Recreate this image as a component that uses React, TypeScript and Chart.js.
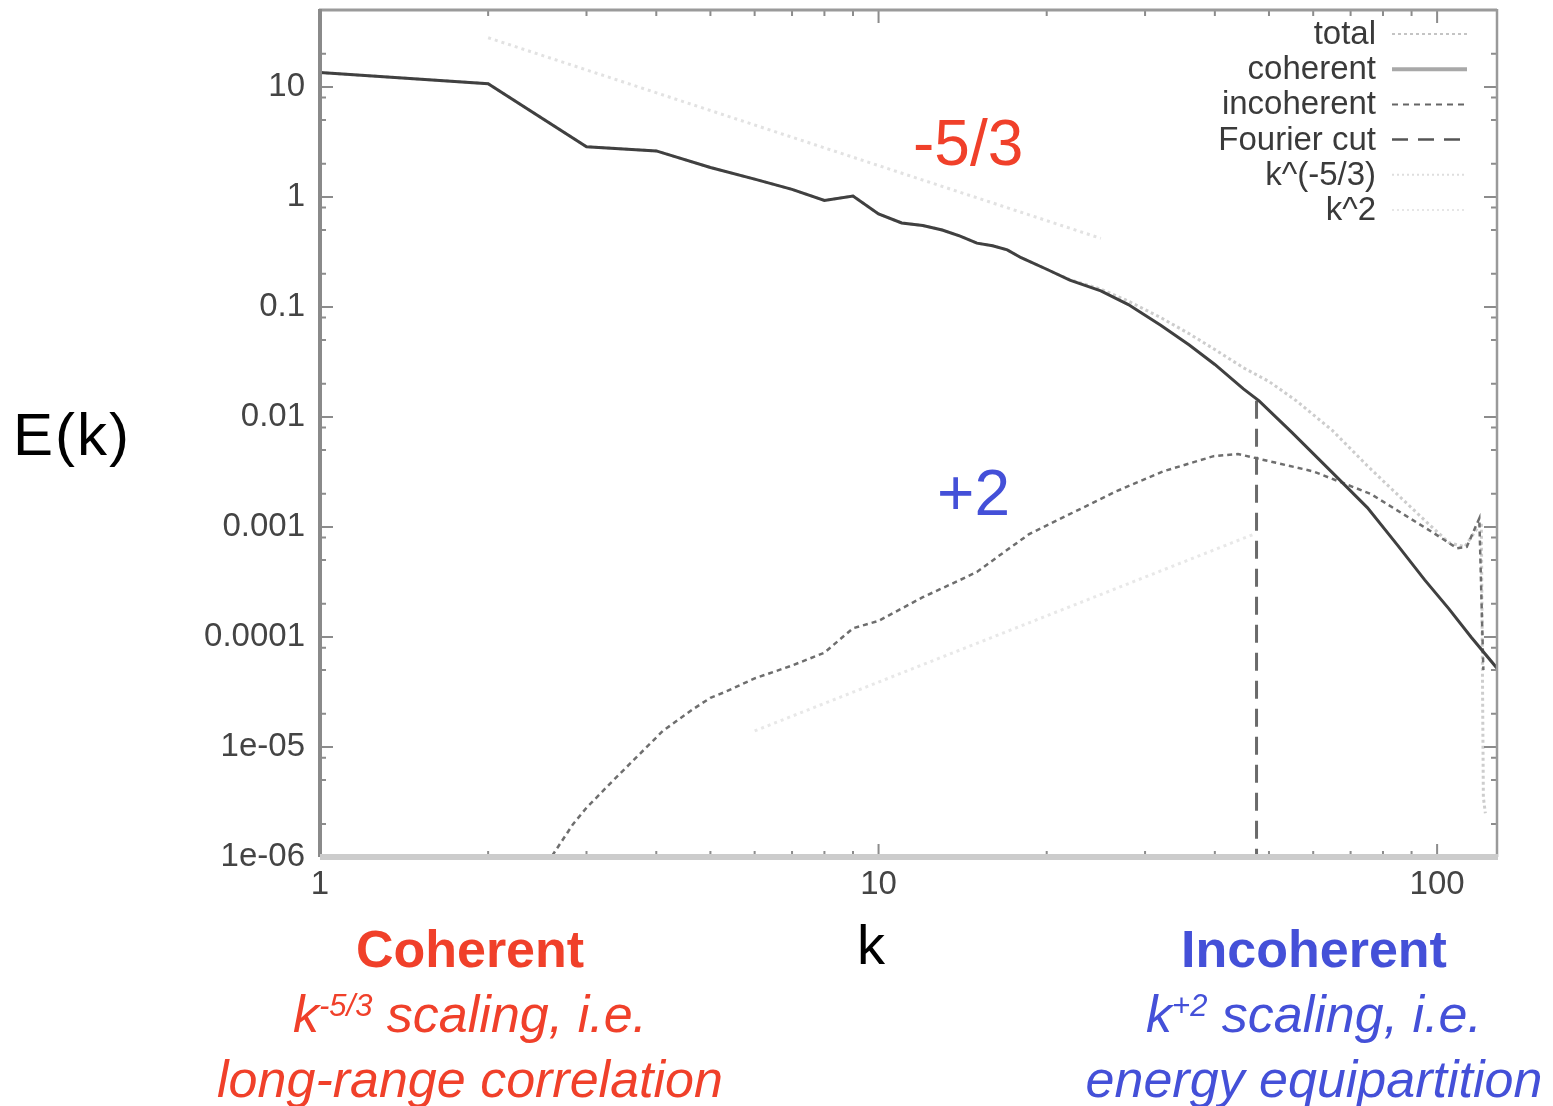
import React, { useEffect, useRef } from 'react';
import { Chart, registerables } from 'chart.js';

Chart.register(...registerables);

const FONT = '"Liberation Sans", Arial, Helvetica, sans-serif';

// ---- data ----
const coherentK = [1, 2, 3, 4, 5, 6, 7, 8, 9, 10, 11, 12, 13, 14, 15, 16, 17, 18, 20, 22, 25, 28, 32, 36, 40, 45, 48, 55, 65, 75, 85, 95, 105, 115, 128];
const coherentE = [13.5, 10.7, 2.86, 2.62, 1.85, 1.45, 1.17, 0.93, 1.02, 0.7, 0.58, 0.55, 0.5, 0.44, 0.38, 0.36, 0.33, 0.28, 0.22, 0.175, 0.14, 0.105, 0.068, 0.045, 0.03, 0.018, 0.014, 0.0072, 0.0031, 0.0015, 0.00068, 0.00033, 0.00018, 0.0001, 0.000052];

const totalK = [1, 2, 3, 4, 5, 6, 7, 8, 9, 10, 11, 12, 13, 14, 15, 16, 17, 18, 20, 22, 25, 28, 32, 36, 40, 45, 50, 56, 65, 75, 83, 95, 105, 112, 120, 121, 122];
const totalE = [13.5, 10.7, 2.86, 2.62, 1.85, 1.45, 1.17, 0.93, 1.02, 0.7, 0.58, 0.55, 0.5, 0.44, 0.38, 0.36, 0.33, 0.28, 0.22, 0.177, 0.145, 0.113, 0.08, 0.057, 0.041, 0.028, 0.021, 0.014, 0.0075, 0.0036, 0.0022, 0.00115, 0.00072, 0.00066, 0.0011, 0.0000035, 0.0000025];

const incoherentK = [2.5, 2.84, 3, 3.3, 3.68, 4.11, 4.65, 5, 5.34, 6, 7, 8, 9, 10, 12, 14, 15, 17, 18.6, 22.6, 26.6, 32.3, 39.8, 44, 47.6, 60, 76, 97.6, 108.6, 113, 119, 121];
const incoherentE = [7.5e-7, 2.0e-6, 2.8e-6, 4.6e-6, 8.0e-6, 1.4e-5, 2.2e-5, 2.8e-5, 3.2e-5, 4.2e-5, 5.5e-5, 7.2e-5, 1.2e-4, 1.4e-4, 2.3e-4, 3.3e-4, 3.9e-4, 6.2e-4, 8.6e-4, 1.4e-3, 2.1e-3, 3.2e-3, 4.4e-3, 4.6e-3, 4.2e-3, 3.2e-3, 2.0e-3, 9.1e-4, 6.4e-4, 6.6e-4, 1.2e-3, 5e-5];

const fourierCutK = [47.5, 47.5];
const fourierCutE = [0.014, 1e-6];

const kolmogorovK = [2, 25];
const kolmogorovE = [28, 0.42];

const equipartK = [6, 47];
const equipartE = [1.4e-5, 8.6e-4];

const xTickValues = [1, 10, 100];
const xTickLabels = ['1', '10', '100'];
const yTickValues = [1e-6, 1e-5, 1e-4, 1e-3, 1e-2, 0.1, 1, 10];
const yTickLabels = ['1e-06', '1e-05', '0.0001', '0.001', '0.01', '0.1', '1', '10'];

const xMinorTicks = [2, 3, 4, 5, 6, 7, 8, 9, 20, 30, 40, 50, 60, 70, 80, 90];
const yMinorMultipliers = [2, 5, 8];

const legendLabels = ['total', 'coherent', 'incoherent', 'Fourier cut', 'k^(-5/3)', 'k^2'];

const toPoints = (ks: number[], es: number[]) => ks.map((k, i) => ({ x: k, y: es[i] }));

const legendStyles = [
  { color: '#c4c4c4', width: 2, dash: [3, 3] },
  { color: '#a8a8a8', width: 4, dash: [] as number[] },
  { color: '#666666', width: 2, dash: [6, 5] },
  { color: '#555555', width: 2.5, dash: [16, 10] },
  { color: '#dedede', width: 2, dash: [2, 3] },
  { color: '#e6e6e6', width: 2, dash: [2, 3] },
];

const framePlugin = {
  id: 'gnuframe',
  afterDatasetsDraw(chart: any) {
    const { ctx, chartArea: a, scales } = chart;
    const xs = scales.x;
    const ys = scales.y;
    ctx.save();
    ctx.strokeStyle = '#8c8c8c';
    ctx.lineWidth = 2;
    const vt = (px: number, len: number) => {
      ctx.beginPath();
      ctx.moveTo(px, a.bottom);
      ctx.lineTo(px, a.bottom - len);
      ctx.moveTo(px, a.top);
      ctx.lineTo(px, a.top + len);
      ctx.stroke();
    };
    const ht = (py: number, len: number) => {
      ctx.beginPath();
      ctx.moveTo(a.left, py);
      ctx.lineTo(a.left + len, py);
      ctx.moveTo(a.right, py);
      ctx.lineTo(a.right - len, py);
      ctx.stroke();
    };
    xTickValues.forEach((v) => vt(xs.getPixelForValue(v), 13));
    xMinorTicks.forEach((v) => vt(xs.getPixelForValue(v), 6));
    yTickValues.forEach((v) => ht(ys.getPixelForValue(v), 13));
    yTickValues.forEach((d) => {
      yMinorMultipliers.forEach((m) => {
        const v = d * m;
        if (v < 50) ht(ys.getPixelForValue(v), 6);
      });
    });
    ctx.setLineDash([]);
    ctx.lineCap = 'butt';
    ctx.strokeStyle = '#9a9a9a';
    ctx.lineWidth = 3;
    ctx.beginPath();
    ctx.moveTo(a.left - 1, a.top);
    ctx.lineTo(a.right, a.top);
    ctx.stroke();
    ctx.strokeStyle = '#8a8a8a';
    ctx.lineWidth = 4;
    ctx.beginPath();
    ctx.moveTo(a.left, a.top - 1);
    ctx.lineTo(a.left, a.bottom);
    ctx.stroke();
    ctx.strokeStyle = '#9a9a9a';
    ctx.lineWidth = 2.5;
    ctx.beginPath();
    ctx.moveTo(a.right, a.top - 1);
    ctx.lineTo(a.right, a.bottom);
    ctx.stroke();
    ctx.strokeStyle = '#cccccc';
    ctx.lineWidth = 6;
    ctx.beginPath();
    ctx.moveTo(a.left, a.bottom);
    ctx.lineTo(a.right + 1, a.bottom);
    ctx.stroke();

    ctx.font = `33px ${FONT}`;
    ctx.textAlign = 'right';
    ctx.textBaseline = 'middle';
    legendLabels.forEach((lab, i) => {
      const y = 34 + i * 35.2;
      ctx.fillStyle = '#3a3a3a';
      ctx.fillText(lab, 1376, y + 1);
      const st = legendStyles[i];
      ctx.strokeStyle = st.color;
      ctx.lineWidth = st.width;
      ctx.setLineDash(st.dash);
      ctx.beginPath();
      ctx.moveTo(1392, y);
      ctx.lineTo(1467, y);
      ctx.stroke();
    });
    ctx.restore();
  },
};

const tickFont = { family: FONT, size: 33 };

const zeroPad = (s: any) => {
  s.paddingTop = 0;
  s.paddingBottom = 0;
  s.paddingLeft = 0;
  s.paddingRight = 0;
};

export default function App() {
  const ref = useRef<HTMLCanvasElement | null>(null);

  useEffect(() => {
    if (!ref.current) return;
    const chart = new Chart(ref.current, {
      type: 'line',
      data: {
        datasets: [
          {
            label: 'coherent',
            data: toPoints(coherentK, coherentE),
            borderColor: '#404040',
            borderWidth: 3,
            pointRadius: 0,
            tension: 0,
            order: 0,
          },
          {
            label: 'Fourier cut',
            data: toPoints(fourierCutK, fourierCutE),
            borderColor: '#6a6a6a',
            borderWidth: 3,
            borderDash: [18, 10],
            pointRadius: 0,
            order: 1,
          },
          {
            label: 'incoherent',
            data: toPoints(incoherentK, incoherentE),
            borderColor: '#6e6e6e',
            borderWidth: 2.5,
            borderDash: [5, 4],
            pointRadius: 0,
            tension: 0,
            order: 2,
          },
          {
            label: 'total',
            data: toPoints(totalK, totalE),
            borderColor: '#cdcdcd',
            borderWidth: 3,
            borderDash: [3, 3],
            pointRadius: 0,
            tension: 0,
            order: 3,
          },
          {
            label: 'k^(-5/3)',
            data: toPoints(kolmogorovK, kolmogorovE),
            borderColor: '#e2e2e2',
            borderWidth: 3,
            borderDash: [3, 4],
            pointRadius: 0,
            order: 4,
          },
          {
            label: 'k^2',
            data: toPoints(equipartK, equipartE),
            borderColor: '#e8e8e8',
            borderWidth: 3,
            borderDash: [3, 4],
            pointRadius: 0,
            order: 5,
          },
        ],
      },
      options: {
        responsive: false,
        animation: false,
        devicePixelRatio: 1,
        layout: { padding: { top: 10, right: 56, left: 0, bottom: 0 } },
        plugins: { legend: { display: false }, tooltip: { enabled: false } },
        scales: {
          x: {
            type: 'logarithmic',
            min: 1,
            max: 128,
            position: 'bottom',
            afterFit: (s: any) => {
              s.height = 249;
              zeroPad(s);
            },
            afterBuildTicks: (s: any) => {
              s.ticks = xTickValues.map((v) => ({ value: v }));
            },
            ticks: {
              autoSkip: false,
              maxRotation: 0,
              padding: 8,
              color: '#444444',
              font: tickFont,
              callback: (v: any) => {
                const i = xTickValues.indexOf(Number(v));
                return i >= 0 ? xTickLabels[i] : '';
              },
            },
            grid: { display: false, drawTicks: false },
            border: { display: false },
          },
          y: {
            type: 'logarithmic',
            min: 1e-6,
            max: 50,
            position: 'left',
            afterFit: (s: any) => {
              s.width = 320;
              zeroPad(s);
            },
            afterBuildTicks: (s: any) => {
              s.ticks = yTickValues.map((v) => ({ value: v }));
            },
            ticks: {
              autoSkip: false,
              padding: 15,
              color: '#444444',
              font: tickFont,
              callback: (v: any) => {
                const n = Number(v);
                const i = yTickValues.findIndex((t) => Math.abs(Math.log10(t) - Math.log10(n)) < 1e-6);
                return i >= 0 ? yTickLabels[i] : '';
              },
            },
            grid: { display: false, drawTicks: false },
            border: { display: false },
          },
        },
      },
      plugins: [framePlugin],
    } as any);
    return () => chart.destroy();
  }, []);

  const red = '#f0402a';
  const blue = '#4450d8';
  const abs = (s: React.CSSProperties): React.CSSProperties => ({
    position: 'absolute',
    fontFamily: FONT,
    whiteSpace: 'nowrap',
    margin: 0,
    ...s,
  });
  const sup: React.CSSProperties = { fontSize: '31px', position: 'relative', top: '-16px', lineHeight: 0, verticalAlign: 'baseline' };

  return (
    <div style={{ position: 'absolute', left: 0, top: 0, width: 1553, height: 1106, overflow: 'hidden', background: '#fff' }}>
      <canvas ref={ref} width={1553} height={1106} style={{ position: 'absolute', left: 0, top: 0, display: 'block' }} />
      <div style={abs({ left: 13, top: 401, fontSize: 60, letterSpacing: '2px', lineHeight: '68px', color: '#000' })}>E(k)</div>
      <div style={abs({ left: 821, top: 917, width: 100, textAlign: 'center', fontSize: 56, lineHeight: '56px', color: '#000' })}>k</div>
      <div style={abs({ left: 913, top: 111, fontSize: 64, lineHeight: '64px', color: red })}>-5/3</div>
      <div style={abs({ left: 937, top: 461, fontSize: 64, lineHeight: '64px', color: blue })}>+2</div>
      <div style={abs({ left: 120, top: 917, width: 700, textAlign: 'center', fontSize: 52, lineHeight: '65px', color: red })}>
        <div style={{ fontWeight: 'bold' }}>Coherent</div>
        <div style={{ fontStyle: 'italic' }}>
          k<span style={sup}>-5/3</span> scaling, i.e.
        </div>
        <div style={{ fontStyle: 'italic' }}>long-range correlation</div>
      </div>
      <div style={abs({ left: 964, top: 917, width: 700, textAlign: 'center', fontSize: 52, lineHeight: '65px', color: blue })}>
        <div style={{ fontWeight: 'bold' }}>Incoherent</div>
        <div style={{ fontStyle: 'italic' }}>
          k<span style={sup}>+2</span> scaling, i.e.
        </div>
        <div style={{ fontStyle: 'italic' }}>energy equipartition</div>
      </div>
    </div>
  );
}
